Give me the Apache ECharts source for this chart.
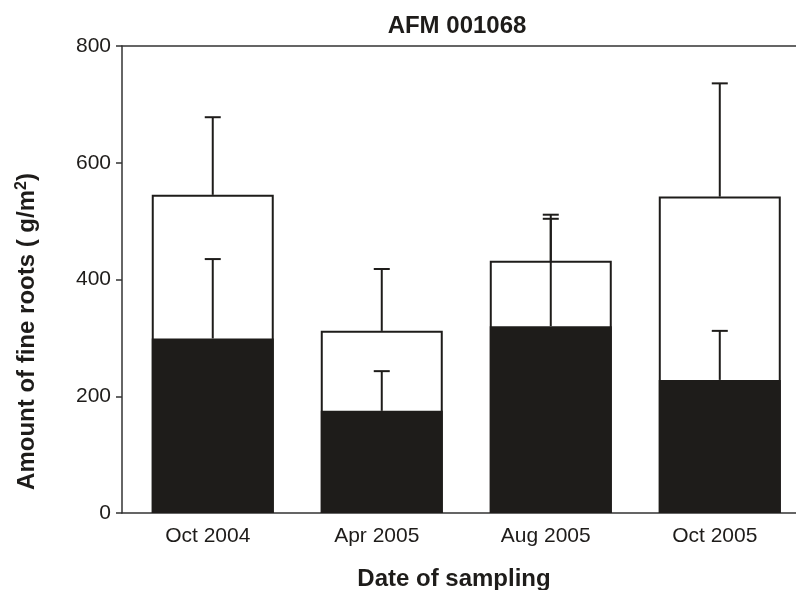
<!DOCTYPE html>
<html>
<head>
<meta charset="utf-8">
<script src="https://cdn.jsdelivr.net/npm/echarts@6/dist/echarts.min.js"></script>
<style>
  html, body { margin: 0; padding: 0; background: #fff; }
  #main { width: 796px; height: 590px; }
</style>
</head>
<body>
<div id="main"></div>
<script>
// sampling dates and fine root amounts (g/m2)
const dates = ["Oct 2004", "Apr 2005", "Aug 2005", "Oct 2005"];
const totalRoots = [545, 312, 432, 542];   // white bars
const liveRoots = [299, 175, 320, 228];    // black bars
const totalErr = [133, 106, 79, 194];
const liveErr = [136, 68, 184, 84];

const font = "'Liberation Sans', Arial, Helvetica, sans-serif";
const ink = "#1e1c1a";

var myChart = echarts.init(document.getElementById("main"));

// error bar drawn from the bar top upward
function errorItem(params, api) {
  var x = api.value(0);
  var base = api.coord([x, api.value(1)]);
  var top = api.coord([x, api.value(1) + api.value(2)]);
  var half = 8;
  return {
    type: "group",
    children: [
      {
        type: "line",
        shape: { x1: base[0], y1: base[1], x2: top[0], y2: top[1] },
        style: { stroke: ink, lineWidth: 2 }
      },
      {
        type: "line",
        shape: { x1: top[0] - half, y1: top[1], x2: top[0] + half, y2: top[1] },
        style: { stroke: ink, lineWidth: 2 }
      }
    ]
  };
}

myChart.setOption({
  animation: false,
  title: {
    text: "AFM 001068",
    left: 452,
    top: 9,
    textAlign: "center",
    textStyle: { fontFamily: font, fontSize: 24, fontWeight: "bold", color: ink }
  },
  grid: { left: 122, right: 0, top: 46, bottom: 77, outerBoundsMode: "none", containLabel: false },
  xAxis: [
    {
      type: "value",
      min: -0.537,
      max: 3.451,
      splitLine: { show: false },
      axisTick: { show: false },
      axisLine: { show: true, onZero: false, lineStyle: { color: "#333", width: 1.5 } },
      axisLabel: {
        customValues: [0, 1, 2, 3],
        formatter: function(v) { return dates[Math.round(v)]; },
        fontFamily: font,
        fontSize: 21,
        color: ink,
        margin: 13,
        padding: [0, 10, 0, 0]
      },
      name: "Date of sampling",
      nameLocation: "middle",
      nameGap: 54,
      nameTextStyle: { fontFamily: font, fontSize: 24, fontWeight: "bold", color: ink, padding: [0, 10, 0, 0] }
    },
    {
      type: "value",
      position: "top",
      min: -0.537,
      max: 3.451,
      splitLine: { show: false },
      axisTick: { show: false },
      axisLabel: { show: false },
      axisLine: { show: true, onZero: false, lineStyle: { color: "#333", width: 1.5 } }
    }
  ],
  yAxis: {
    type: "value",
    min: 0,
    max: 800,
    interval: 200,
    splitLine: { show: false },
    axisLine: { show: true, onZero: false, lineStyle: { color: "#333", width: 1.5 } },
    axisTick: { show: true, length: 6, lineStyle: { color: "#333", width: 1.5 } },
    axisLabel: { fontFamily: font, fontSize: 21, color: ink, margin: 11 },
    name: "Amount of fine roots ( g/m{sup|2})",
    nameLocation: "middle",
    nameGap: 82,
    nameTextStyle: {
      fontFamily: font, fontSize: 24, fontWeight: "bold", color: ink,
      padding: [0, 104, 0, 0],
      rich: {
        sup: { fontFamily: font, fontSize: 16, fontWeight: "bold", color: ink, verticalAlign: "top", padding: [0, 0, 10, 0] }
      }
    }
  },
  series: [
    {
      name: "total",
      type: "bar",
      barWidth: 122,
      barGap: "-100%",
      data: totalRoots.map((v, i) => [i, v]),
      itemStyle: { color: "#fff", borderColor: ink, borderWidth: 2 },
      z: 2
    },
    {
      name: "live",
      type: "bar",
      barWidth: 122,
      barGap: "-100%",
      data: liveRoots.map((v, i) => [i, v]),
      itemStyle: { color: ink },
      z: 3
    },
    {
      name: "totalErr",
      type: "custom",
      renderItem: errorItem,
      data: totalRoots.map((v, i) => [i, v, totalErr[i]]),
      z: 4
    },
    {
      name: "liveErr",
      type: "custom",
      renderItem: errorItem,
      data: liveRoots.map((v, i) => [i, v, liveErr[i]]),
      z: 4
    }
  ]
});
</script>
</body>
</html>
